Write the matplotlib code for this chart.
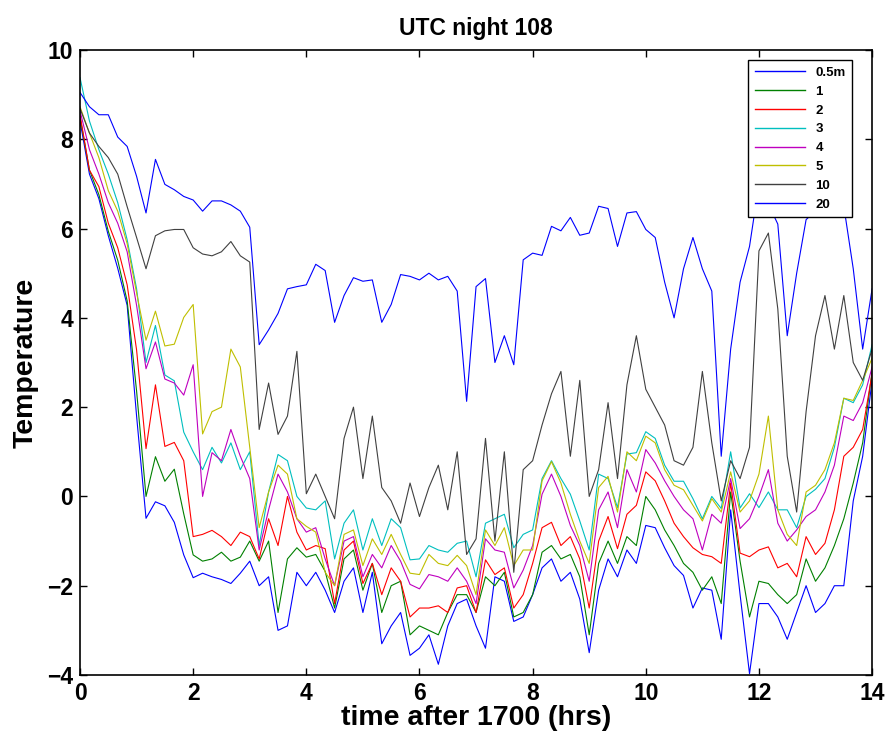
import numpy as np
import matplotlib
matplotlib.use("Agg")
import matplotlib.pyplot as plt

# time axis: one sample every 10 minutes after 1700
hours = np.arange(85) / 6.0

labels = ['0.5m', '1', '2', '3', '4', '5', '10', '20']

t05 = [8.41, 7.22, 6.67, 5.84, 5.11, 4.28, 1.8, -0.49, -0.12, -0.21,
       -0.58, -1.31, -1.82, -1.72, -1.8, -1.86, -1.95, -1.72, -1.45, -2.0,
       -1.8, -3.0, -2.9, -1.7, -2.0, -1.7, -2.1, -2.6, -1.9, -1.6,
       -2.6, -1.7, -3.3, -2.9, -2.6, -3.56, -3.4, -3.1, -3.76, -2.9,
       -2.4, -2.3, -2.9, -3.4, -1.8, -1.9, -2.8, -2.7, -2.2, -1.6,
       -1.4, -1.9, -1.7, -2.3, -3.5, -2.1, -1.4, -1.8, -1.2, -1.5,
       -0.65, -0.7, -1.15, -1.55, -1.77, -2.5, -2.05, -2.1, -3.2, -0.3,
       -2.2, -3.97, -2.4, -2.4, -2.7, -3.2, -2.6, -2.0, -2.6, -2.4,
       -2.0, -2.0, -0.1, 0.9, 2.6]
t1 = [8.5, 7.31, 6.76, 5.94, 5.29, 4.38, 2.36, 0.0, 0.89, 0.34,
      0.61, -0.39, -1.31, -1.45, -1.4, -1.25, -1.45, -1.36, -1.0, -1.45,
      -1.0, -2.6, -1.4, -1.15, -1.36, -1.3, -1.68, -2.5, -1.4, -1.2,
      -2.1, -1.5, -2.6, -2.0, -1.9, -3.1, -2.9, -3.0, -3.1, -2.6,
      -2.2, -2.2, -2.6, -1.8, -2.0, -1.7, -2.7, -2.6, -2.2, -1.25,
      -1.1, -1.4, -1.3, -1.8, -3.1, -1.5, -1.0, -1.5, -0.9, -1.1,
      0.0, -0.3, -0.75, -1.1, -1.5, -1.7, -2.1, -1.8, -2.4, 0.1,
      -1.45, -2.7, -1.9, -1.95, -2.2, -2.4, -2.2, -1.4, -1.9, -1.6,
      -1.1, -0.5, 0.3, 1.2, 2.8]
t2 = [8.55, 7.31, 6.94, 6.12, 5.57, 4.74, 3.28, 1.07, 2.5, 1.12,
      1.21, 0.8, -0.9, -0.85, -0.76, -0.9, -1.1, -0.8, -0.9, -1.4,
      -0.5, -1.1, 0.0, -0.8, -1.2, -1.1, -1.17, -2.4, -1.2, -1.0,
      -1.95, -1.5, -2.2, -1.6, -1.9, -2.7, -2.5, -2.5, -2.45, -2.6,
      -2.05, -2.0, -2.6, -1.42, -1.75, -1.6, -2.5, -2.2, -1.5, -0.7,
      -0.58, -1.1, -0.9, -1.4, -2.5, -1.0, -0.45, -1.17, -0.4, -0.2,
      0.55, 0.35, -0.1, -0.6, -0.9, -1.15, -1.3, -1.35, -1.5, 0.3,
      -1.27, -1.35, -1.2, -1.13, -1.6, -1.5, -1.8, -0.9, -1.3, -1.05,
      -0.3, 0.9, 1.1, 1.5, 2.75]
t3 = [9.38, 8.41, 7.77, 7.22, 6.58, 5.75, 4.65, 3.0, 3.83, 2.72,
      2.59, 1.44, 1.0, 0.6, 1.1, 0.75, 1.2, 0.6, 1.0, -1.1,
      0.1, 0.94, 0.8, 0.0, -0.26, -0.3, -0.1, -1.4, -0.6, -0.3,
      -1.2, -0.5, -1.1, -0.5, -0.7, -1.42, -1.4, -1.1, -1.2, -1.25,
      -1.05, -1.0, -1.8, -0.6, -0.5, -0.4, -1.15, -0.85, -0.75, 0.4,
      0.8, 0.4, 0.05, -0.55, -1.2, 0.5, 0.4, -0.25, 0.95, 0.98,
      1.45, 1.3, 0.7, 0.34, 0.34, -0.05, -0.5, 0.0, -0.27, 1.0,
      -0.26, 0.06, -0.25, 0.1, -0.3, -0.3, -0.7, 0.0, 0.16, 0.4,
      1.1, 2.2, 2.1, 2.5, 3.4]
t4 = [8.64, 7.77, 7.22, 6.58, 6.12, 5.48, 4.28, 2.86, 3.46, 2.63,
      2.54, 2.27, 2.95, 0.0, 0.98, 0.8, 1.5, 0.9, 0.4, -1.2,
      -0.3, 0.5, 0.1, -0.5, -0.8, -0.7, -1.4, -2.0, -1.0, -0.9,
      -1.8, -1.3, -1.6, -1.1, -1.45, -1.97, -2.07, -1.75, -1.8, -1.9,
      -1.6, -1.9, -2.4, -0.95, -1.2, -1.25, -2.05, -1.65, -1.1, 0.05,
      0.5, 0.0, -0.65, -1.1, -1.9, -0.3, 0.1, -0.7, 0.6, 0.1,
      1.05, 0.75, 0.35, 0.0, -0.3, -0.5, -1.2, -0.4, -0.6, 0.4,
      -0.72, -0.5, 0.0, 0.6, -0.6, -1.0, -0.75, -0.45, -0.3, 0.1,
      0.7, 1.8, 1.7, 2.1, 2.9]
t5 = [8.73, 8.14, 7.59, 6.85, 6.39, 5.66, 4.56, 3.5, 4.15, 3.37,
      3.41, 4.01, 4.3, 1.4, 1.9, 2.0, 3.3, 2.9, 1.1, -0.7,
      0.1, 0.7, 0.5, -0.5, -0.67, -0.8, -1.7, -2.0, -0.85, -0.75,
      -1.55, -0.95, -1.3, -0.85, -1.3, -1.72, -1.75, -1.3, -1.5, -1.55,
      -1.32, -1.55, -2.2, -0.75, -1.1, -0.7, -1.55, -1.2, -1.2, 0.35,
      0.78, 0.3, -0.4, -1.0, -1.5, 0.2, 0.45, -0.35, 1.0, 0.8,
      1.35, 1.2, 0.6, 0.25, 0.15, -0.2, -0.55, -0.05, -0.35, 0.55,
      -0.35, -0.1, 0.5, 1.8, -0.3, -0.85, -1.1, 0.1, 0.25, 0.6,
      1.2, 2.2, 2.15, 2.6, 3.1]
t10 = [8.69, 8.14, 7.84, 7.59, 7.22, 6.49, 5.8, 5.1, 5.84, 5.95,
       5.98, 5.98, 5.57, 5.43, 5.39, 5.48, 5.71, 5.39, 5.25, 1.5,
       2.54, 1.39, 1.8, 3.25, 0.06, 0.5, 0.0, -0.5, 1.3, 2.0,
       0.4, 1.8, 0.2, -0.1, -0.6, 0.3, -0.45, 0.2, 0.7, -0.3,
       1.0, -1.3, -0.95, 1.3, -1.0, 1.0, -1.7, 0.6, 0.8, 1.6,
       2.3, 2.8, 0.9, 2.6, 0.0, 0.6, 2.1, 0.4, 2.5, 3.6,
       2.4, 2.0, 1.6, 0.8, 0.7, 1.1, 2.8, 1.2, -0.1, 0.8,
       0.4, 1.1, 5.5, 5.9, 4.2, 0.9, -0.35, 1.9, 3.6, 4.5,
       3.3, 4.5, 3.0, 2.6, 3.3]
t20 = [9.05, 8.73, 8.55, 8.55, 8.05, 7.84, 7.17, 6.35, 7.55, 6.99,
       6.87, 6.72, 6.64, 6.39, 6.62, 6.62, 6.53, 6.39, 6.03, 3.4,
       3.73, 4.1, 4.65, 4.7, 4.74, 5.2, 5.06, 3.9, 4.5, 4.9,
       4.82, 4.85, 3.9, 4.3, 4.97, 4.93, 4.85, 5.0, 4.85, 4.93,
       4.6, 2.13, 4.7, 4.88, 3.0, 3.6, 2.95, 5.3, 5.45, 5.4,
       6.05, 5.95, 6.25, 5.85, 5.9, 6.5, 6.45, 5.6, 6.35, 6.38,
       5.98, 5.8, 4.8, 4.0, 5.1, 5.8, 5.1, 4.6, 0.9, 3.3,
       4.8, 5.6, 7.0, 6.55, 6.1, 3.6, 5.0, 6.2, 6.4, 6.4,
       6.6, 6.5, 5.1, 3.3, 4.65]

series = [t05, t1, t2, t3, t4, t5, t10, t20]
colors = ['#0000ff', '#008000', '#ff0000', '#00bfbf', '#bf00bf', '#bfbf00', '#404040', '#0000ff']

plt.rcParams['font.family'] = ['Liberation Sans', 'DejaVu Sans']
plt.rcParams['font.weight'] = 'bold'

fig = plt.figure(figsize=(8.93, 7.42), dpi=100)
ax = fig.add_axes([0.0896, 0.0903, 0.887, 0.8423])

for vals, col, lab in zip(series, colors, labels):
    ax.plot(hours, vals, color=col, linewidth=0.8, label=lab)

ax.set_xlim(0, 14)
ax.set_ylim(-4, 10)
ax.set_xticks(range(0, 15, 2))
ax.set_yticks(range(-4, 11, 2))
ax.tick_params(direction='in', top=True, right=True, labelsize=16.5, length=5, width=1, pad=5)
for lbl in ax.get_xticklabels() + ax.get_yticklabels():
    lbl.set_fontweight('bold')
for sp in ax.spines.values():
    sp.set_linewidth(1.2)

ax.set_title('UTC night 108', fontsize=16.5, fontweight='bold', pad=11)
ax.set_xlabel('time after 1700 (hrs)', fontsize=20.5, fontweight='bold', labelpad=0)
ax.set_ylabel('Temperature', fontsize=20.5, fontweight='bold', labelpad=6)

leg = ax.legend(loc='upper right', bbox_to_anchor=(0.975, 0.984), borderaxespad=0,
                fontsize=9.5, handlelength=3.8, labelspacing=0.5, fancybox=False,
                framealpha=1, edgecolor='black', borderpad=0.5)
leg.get_frame().set_linewidth(1.0)
for line in leg.get_lines():
    line.set_linewidth(1.0)
for txt in leg.get_texts():
    txt.set_fontweight('bold')

fig.savefig('out.png', dpi=100)
